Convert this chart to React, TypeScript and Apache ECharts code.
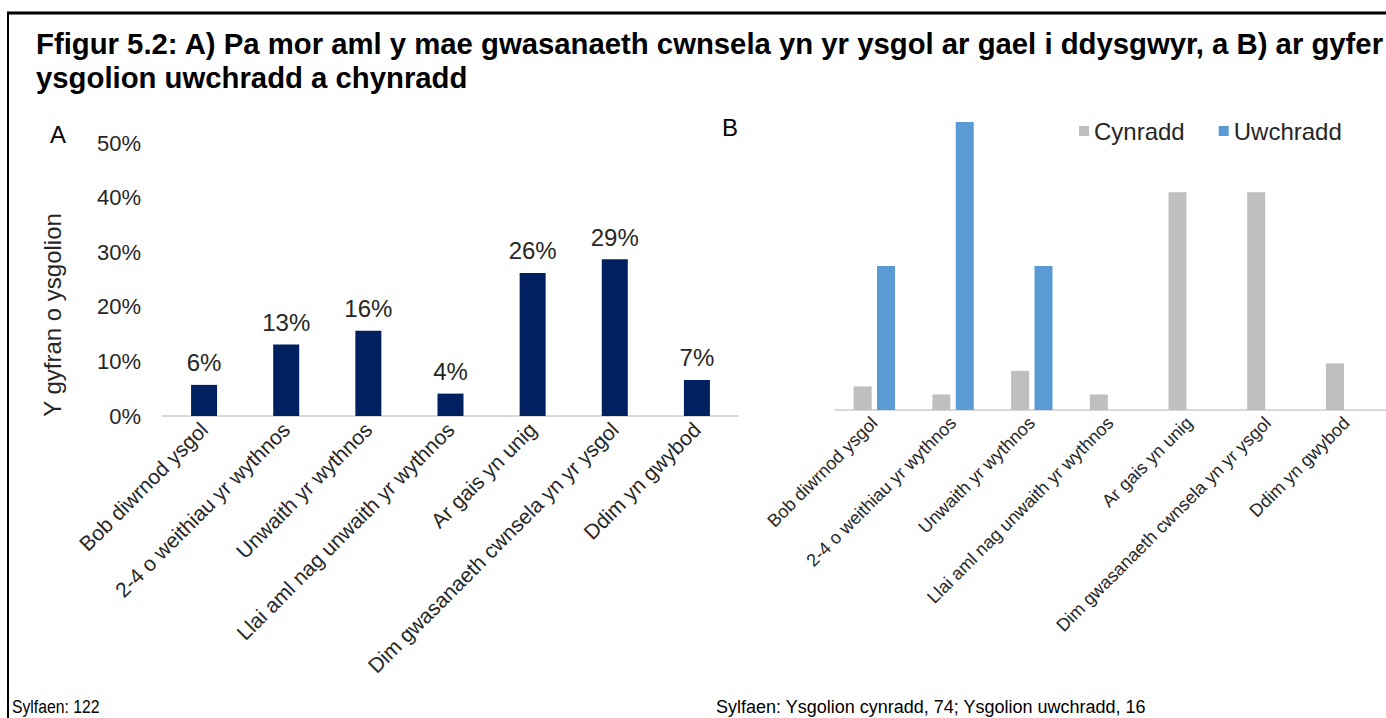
import React, { useEffect, useRef } from "react";
import * as echarts from "echarts";

const categories = [
  "Bob diwrnod ysgol",
  "2-4 o weithiau yr wythnos",
  "Unwaith yr wythnos",
  "Llai aml nag unwaith yr wythnos",
  "Ar gais yn unig",
  "Dim gwasanaeth cwnsela yn yr ysgol",
  "Ddim yn gwybod",
];
const allSchools = [5.7, 13.1, 15.6, 4.1, 26.2, 28.7, 6.6];
const primary = [4.1, 2.7, 6.8, 2.7, 37.8, 37.8, 8.1];
const secondary = [25, 50, 25, 0, 0, 0, 0];
const seriesNames = ["Cynradd", "Uwchradd"];
const titleLines = [
  "Ffigur 5.2: A) Pa mor aml y mae gwasanaeth cwnsela yn yr ysgol ar gael i ddysgwyr, a B) ar gyfer",
  "ysgolion uwchradd a chynradd",
];
const yAxisName = "Y gyfran o ysgolion";
const footA = "Sylfaen: 122";
const footB = "Sylfaen: Ysgolion cynradd, 74; Ysgolion uwchradd, 16";

const FONT = '"Liberation Sans", Arial, sans-serif';
const TXT = "#262626";

export default function App() {
  const ref = useRef<HTMLDivElement>(null);
  useEffect(() => {
    if (!ref.current) return;
    const chart = echarts.init(ref.current, null, { renderer: "svg" });
    const catLabel = (size: number) => ({
      rotate: 45,
      interval: 0,
      fontSize: size,
      color: TXT,
      fontFamily: FONT,
      margin: 10,
    });
    chart.setOption({
      animation: false,
      backgroundColor: "#ffffff",
      textStyle: { fontFamily: FONT },
      grid: [
        { left: 163, right: 1386 - 738, top: 143, bottom: 718 - 416 },
        { left: 835, right: -3, top: 122, bottom: 718 - 410 },
      ],
      legend: {
        data: seriesNames,
        left: 1074,
        top: 114,
        icon: "rect",
        itemWidth: 10,
        itemHeight: 10,
        itemGap: 34,
        textStyle: { fontSize: 24, color: TXT, fontFamily: FONT },
      },
      xAxis: [
        {
          type: "category",
          gridIndex: 0,
          data: categories,
          axisLine: { lineStyle: { color: "#d9d9d9", width: 2 } },
          axisTick: { show: false },
          axisLabel: catLabel(21),
        },
        {
          type: "category",
          gridIndex: 1,
          data: categories,
          axisLine: { lineStyle: { color: "#d9d9d9", width: 2 } },
          axisTick: { show: false },
          axisLabel: catLabel(18),
        },
      ],
      yAxis: [
        {
          type: "value",
          gridIndex: 0,
          min: 0,
          max: 50,
          interval: 10,
          splitLine: { show: false },
          axisLine: { show: false },
          axisTick: { show: false },
          axisLabel: {
            formatter: "{value}%",
            fontSize: 22,
            color: TXT,
            fontFamily: FONT,
            margin: 22,
          },
        },
        {
          type: "value",
          gridIndex: 1,
          min: 0,
          max: 50,
          show: false,
          splitLine: { show: false },
        },
      ],
      series: [
        {
          type: "bar",
          name: "A",
          xAxisIndex: 0,
          yAxisIndex: 0,
          data: allSchools,
          barWidth: 26,
          itemStyle: { color: "#002060" },
          label: {
            show: true,
            position: "top",
            distance: 10,
            fontSize: 24,
            color: TXT,
            fontFamily: FONT,
            formatter: (p: any) => Math.round(p.value) + "%",
          },
        },
        {
          type: "bar",
          name: seriesNames[0],
          xAxisIndex: 1,
          yAxisIndex: 1,
          data: primary,
          barWidth: 18,
          barGap: "30%",
          itemStyle: { color: "#bfbfbf" },
        },
        {
          type: "bar",
          name: seriesNames[1],
          xAxisIndex: 1,
          yAxisIndex: 1,
          data: secondary,
          barWidth: 18,
          barGap: "30%",
          itemStyle: { color: "#5b9bd5" },
        },
      ],
      graphic: [
        { type: "line", shape: { x1: 7, y1: 13, x2: 1386, y2: 13 }, style: { stroke: "#000", lineWidth: 3 } },
        { type: "line", shape: { x1: 8, y1: 12, x2: 8, y2: 718 }, style: { stroke: "#000", lineWidth: 2 } },
        {
          type: "text",
          x: 36,
          y: 29,
          style: { text: titleLines[0], fontSize: 29.3, fontWeight: "bold", fontFamily: FONT, fill: "#000", textVerticalAlign: "top" },
        },
        {
          type: "text",
          x: 36,
          y: 63,
          style: { text: titleLines[1], fontSize: 29.3, fontWeight: "bold", fontFamily: FONT, fill: "#000", textVerticalAlign: "top" },
        },
        {
          type: "text",
          x: 50,
          y: 122,
          style: { text: "A", fontSize: 24, fontFamily: FONT, fill: "#000", textVerticalAlign: "top" },
        },
        {
          type: "text",
          x: 722,
          y: 115,
          style: { text: "B", fontSize: 24, fontFamily: FONT, fill: "#000", textVerticalAlign: "top" },
        },
        {
          type: "text",
          x: 52,
          y: 315,
          rotation: Math.PI / 2,
          style: { text: yAxisName, fontSize: 24, fontFamily: FONT, fill: TXT, textAlign: "center", textVerticalAlign: "middle" },
        },
        {
          type: "text",
          x: 12,
          y: 698,
          scaleX: 0.9,
          style: { text: footA, fontSize: 17.5, fontFamily: FONT, fill: "#000", textVerticalAlign: "top" },
        },
        {
          type: "text",
          x: 716,
          y: 698,
          style: { text: footB, fontSize: 18, fontFamily: FONT, fill: "#000", textVerticalAlign: "top" },
        },
      ],
    });
    return () => chart.dispose();
  }, []);
  return (
    <div
      ref={ref}
      style={{ position: "fixed", left: 0, top: 0, width: 1386, height: 718, background: "#fff" }}
    />
  );
}
